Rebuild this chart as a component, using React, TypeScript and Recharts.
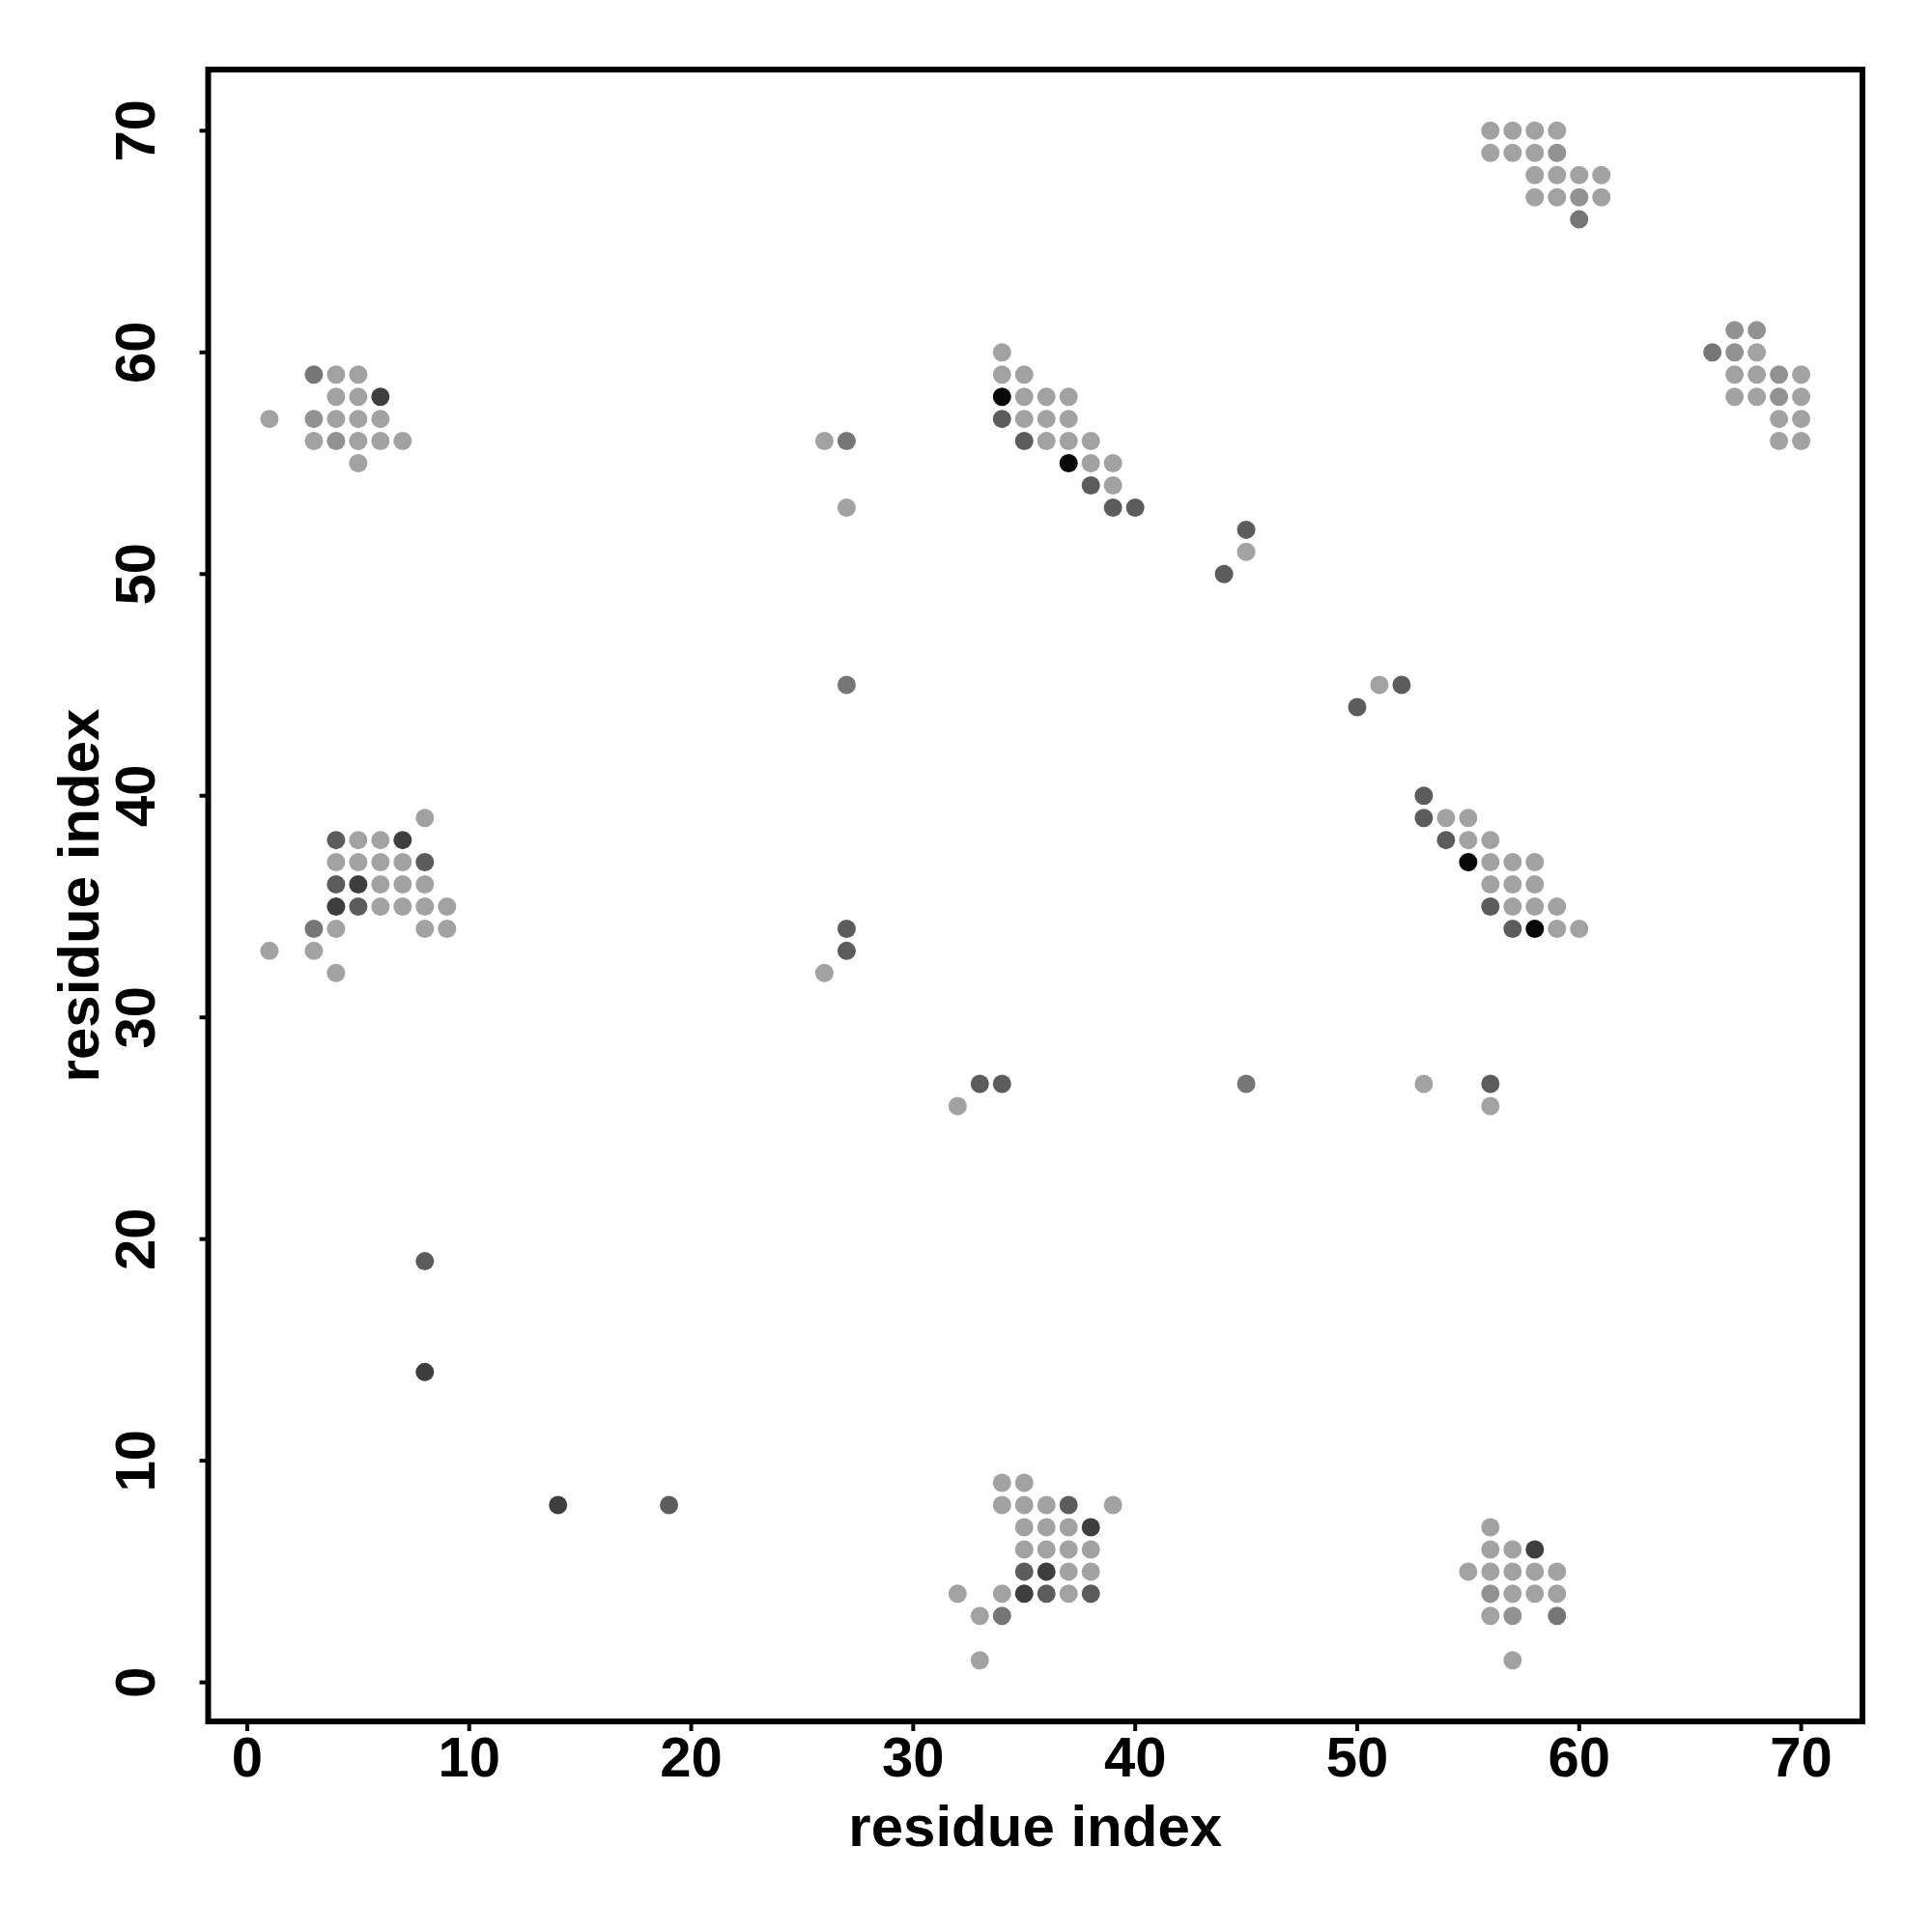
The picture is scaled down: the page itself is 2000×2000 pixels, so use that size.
import { ScatterChart, Scatter, XAxis, YAxis, ReferenceArea } from "recharts";

// contact map points [residue i, residue j], grouped by shade
const lightPoints: number[][] = [
  [4, 59], [5, 59], [4, 58], [5, 58], [1, 57], [4, 57], [5, 57], [6, 57],
  [3, 56], [5, 56], [6, 56], [7, 56], [5, 55],
  [8, 39], [5, 38], [6, 38], [4, 37], [5, 37], [6, 37], [7, 37],
  [6, 36], [7, 36], [8, 36], [6, 35], [7, 35], [8, 35], [9, 35],
  [4, 34], [8, 34], [9, 34], [1, 33], [3, 33], [4, 32],
  [26, 56], [27, 53], [26, 32],
  [34, 60], [34, 59], [35, 59], [35, 58], [36, 58], [37, 58],
  [35, 57], [36, 57], [37, 57], [36, 56], [37, 56], [38, 56],
  [38, 55], [39, 55], [39, 54],
  [45, 51], [51, 45],
  [56, 70], [57, 70], [58, 70], [59, 70], [56, 69], [57, 69], [58, 69],
  [58, 68], [59, 68], [60, 68], [61, 68], [58, 67], [59, 67], [61, 67],
  [68, 60], [67, 59], [68, 59], [70, 59], [67, 58], [68, 58], [70, 58],
  [69, 57], [70, 57], [69, 56], [70, 56],
  [54, 39], [55, 39], [55, 38], [56, 38], [56, 37], [57, 37], [58, 37],
  [56, 36], [57, 36], [58, 36], [57, 35], [58, 35], [59, 35], [59, 34], [60, 34],
  [32, 26], [53, 27], [56, 26],
  [34, 9], [35, 9], [34, 8], [35, 8], [36, 8], [39, 8],
  [35, 7], [36, 7], [37, 7], [35, 6], [36, 6], [37, 6], [38, 6],
  [37, 5], [38, 5], [32, 4], [34, 4], [37, 4], [33, 3], [33, 1],
  [56, 7], [56, 6], [57, 6], [55, 5], [56, 5], [57, 5], [58, 5], [59, 5],
  [57, 4], [58, 4], [59, 4], [56, 3], [57, 1],
];

const lightMidPoints: number[][] = [
  [3, 57], [4, 56], [59, 69], [60, 67], [67, 61], [68, 61], [67, 60],
  [69, 59], [69, 58], [56, 4], [57, 3],
];

const midPoints: number[][] = [
  [3, 59], [3, 34], [27, 56], [27, 45], [60, 66], [66, 60], [45, 27],
  [34, 3], [59, 3],
];

const darkPoints: number[][] = [
  [4, 38], [8, 37], [4, 36], [5, 35], [8, 19], [19, 8],
  [27, 34], [27, 33], [34, 57], [35, 56], [38, 54], [39, 53], [40, 53],
  [45, 52], [44, 50], [52, 45], [50, 44],
  [53, 40], [53, 39], [54, 38], [56, 35], [57, 34],
  [33, 27], [34, 27], [56, 27],
  [37, 8], [35, 5], [36, 4], [38, 4],
];

const darkerPoints: number[][] = [
  [6, 58], [7, 38], [5, 36], [4, 35], [8, 14], [14, 8],
  [38, 7], [36, 5], [35, 4], [58, 6],
];

const blackPoints: number[][] = [
  [34, 58], [37, 55], [55, 37], [58, 34],
];

const axisTicks = [0, 10, 20, 30, 40, 50, 60, 70];
const axisDomain = [-1.76, 72.76];

const series = [
  { name: "light", points: lightPoints, color: "#a2a2a2" },
  { name: "lightMid", points: lightMidPoints, color: "#929292" },
  { name: "mid", points: midPoints, color: "#767676" },
  { name: "dark", points: darkPoints, color: "#5c5c5c" },
  { name: "darker", points: darkerPoints, color: "#3e3e3e" },
  { name: "black", points: blackPoints, color: "#080808" },
];

const W = 1984;
const H = 1984;
const PLOT_LEFT = 207.5;
const PLOT_TOP = 64;
const PLOT_RIGHT = 1920;
const PLOT_BOTTOM = 1774;
const AXIS_SPACE = 80;
const FONT = "'Liberation Sans', Arial, sans-serif";

const XTick = (props: any) => {
  const { x, payload } = props;
  return (
    <text
      x={x}
      y={PLOT_BOTTOM + 57}
      textAnchor="middle"
      fontFamily={FONT}
      fontWeight="bold"
      fontSize={58}
      fill="#000"
    >
      {payload.value}
    </text>
  );
};

const YTick = (props: any) => {
  const { y, payload } = props;
  return (
    <text
      transform={`translate(${PLOT_LEFT - 55.5}, ${y}) rotate(-90)`}
      textAnchor="middle"
      fontFamily={FONT}
      fontWeight="bold"
      fontSize={58}
      fill="#000"
    >
      {payload.value}
    </text>
  );
};

export default function App() {
  return (
    <div style={{ width: W, height: H, position: "relative", background: "#fff" }}>
      <ScatterChart
        width={W}
        height={H}
        margin={{
          top: PLOT_TOP,
          right: W - PLOT_RIGHT,
          bottom: H - PLOT_BOTTOM - AXIS_SPACE,
          left: PLOT_LEFT - AXIS_SPACE,
        }}
      >
        <XAxis
          type="number"
          dataKey="x"
          domain={axisDomain}
          ticks={axisTicks}
          interval={0}
          allowDataOverflow
          height={AXIS_SPACE}
          axisLine={false}
          tickSize={10}
          tickLine={{ stroke: "#000", strokeWidth: 4 }}
          tick={<XTick />}
        />
        <YAxis
          type="number"
          dataKey="y"
          domain={axisDomain}
          ticks={axisTicks}
          interval={0}
          allowDataOverflow
          width={AXIS_SPACE}
          axisLine={false}
          tickSize={9}
          tickLine={{ stroke: "#000", strokeWidth: 4 }}
          tick={<YTick />}
        />
        <ReferenceArea
          x1={axisDomain[0]}
          x2={axisDomain[1]}
          y1={axisDomain[0]}
          y2={axisDomain[1]}
          fill="none"
          fillOpacity={0}
          stroke="#000"
          strokeWidth={6}
          ifOverflow="visible"
        />
        {series.map((s) => (
          <Scatter
            key={s.name}
            data={s.points.map(([x, y]) => ({ x, y }))}
            fill={s.color}
            isAnimationActive={false}
            shape={(p: any) => <circle cx={p.cx} cy={p.cy} r={9.5} fill={s.color} />}
          />
        ))}
      </ScatterChart>
      <div
        style={{
          position: "absolute",
          left: 0,
          top: 0,
          width: W,
          height: H,
          pointerEvents: "none",
        }}
      >
        <svg width={W} height={H}>
          <text
            x={(PLOT_LEFT + PLOT_RIGHT) / 2}
            y={1903}
            textAnchor="middle"
            fontFamily={FONT}
            fontWeight="bold"
            fontSize={60}
            fill="#000"
          >
            residue index
          </text>
          <text
            transform={`translate(94, ${(PLOT_TOP + PLOT_BOTTOM) / 2}) rotate(-90)`}
            textAnchor="middle"
            fontFamily={FONT}
            fontWeight="bold"
            fontSize={60}
            fill="#000"
          >
            residue index
          </text>
        </svg>
      </div>
    </div>
  );
}
